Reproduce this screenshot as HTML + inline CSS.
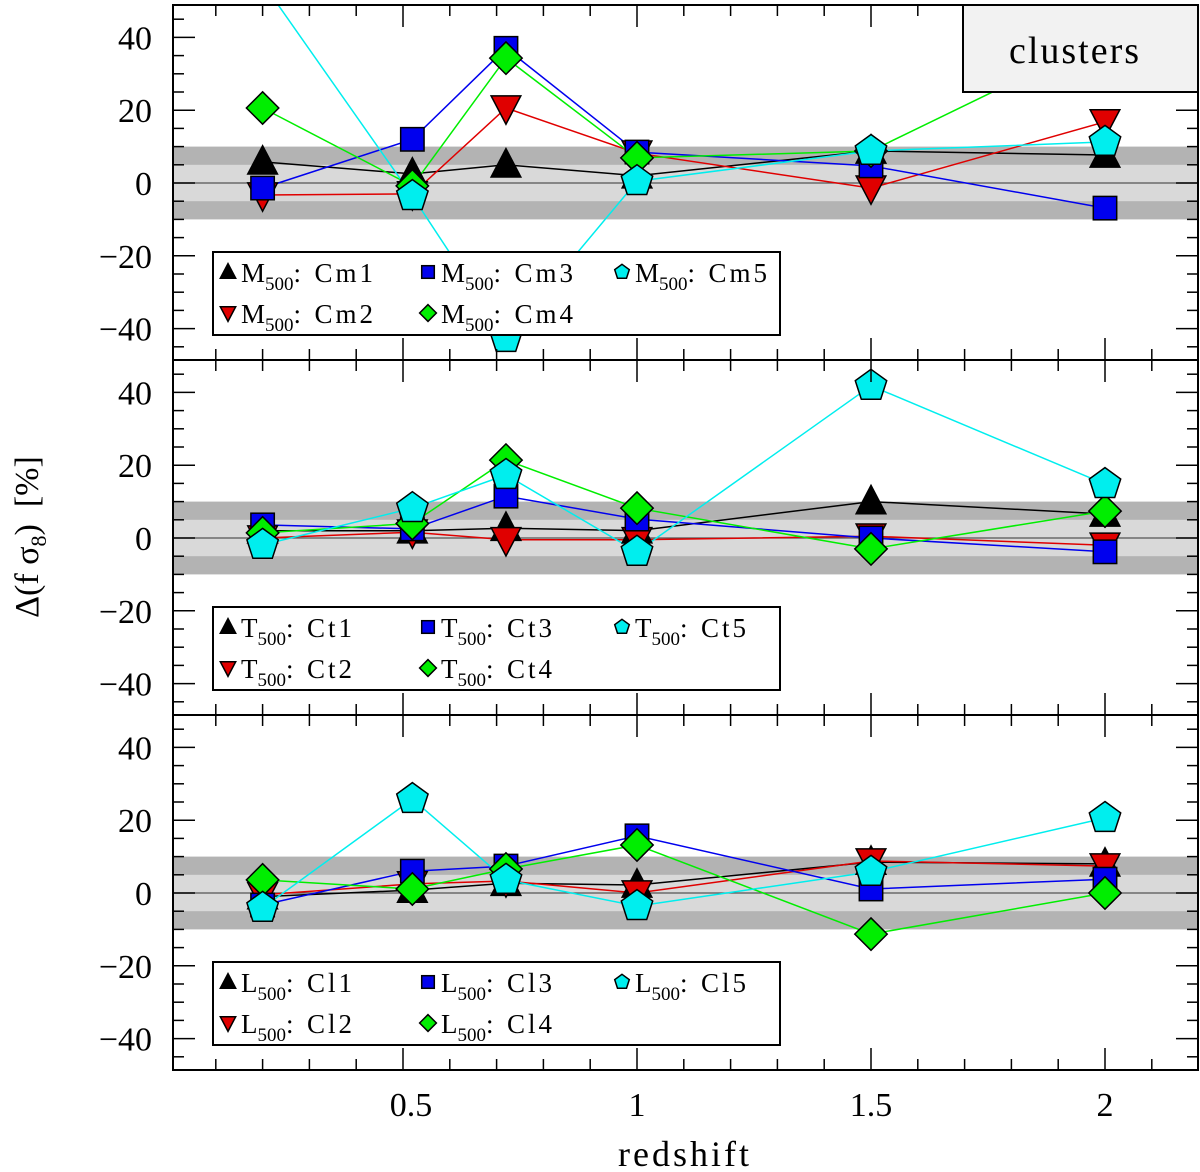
<!DOCTYPE html>
<html><head><meta charset="utf-8"><style>
html,body{margin:0;padding:0;background:#fff}
svg{display:block}
text{font-family:"Liberation Serif",serif;fill:#000;white-space:pre}
</style></head><body>
<svg id="c" width="1200" height="1172" viewBox="0 0 1200 1172" xmlns="http://www.w3.org/2000/svg"></svg>
<script>
const redshift=[0.2,0.52,0.72,1.0,1.5,2.0];
const panelPrefix=["M","T","L"];
const seriesNames=[["Cm1","Cm2","Cm3","Cm4","Cm5"],["Ct1","Ct2","Ct3","Ct4","Ct5"],["Cl1","Cl2","Cl3","Cl4","Cl5"]];
// top panel (M500)
const cm1=[5.8,2.5,5,2,8.8,7.7];
const cm2=[-3.3,-3,20.6,8.2,-1.4,16.8];
const cm3=[-1.4,12,37,8.5,4.7,-6.9];
const cm4=[20.6,-0.8,34.3,6.9,8.8,40];
const cm5=[55,-3.6,-42.6,0.5,8.8,11.3];
// middle panel (T500)
const ct1=[2,2,2.7,2,10,6.6];
const ct2=[0,1.6,-0.5,-0.5,0.5,-2];
const ct3=[3.6,2.5,11.5,5.2,0,-3.8];
const ct4=[1.4,4,21.4,8.2,-3,7.4];
const ct5=[-1.9,8.2,17.3,-3.8,41.8,14.8];
// bottom panel (L500)
const cl1=[-1,0.8,2.7,2.2,8.5,8];
const cl2=[-0.5,2.5,3.3,0,8.8,7.4];
const cl3=[-3.3,6,7.4,15.7,1.1,3.8];
const cl4=[3.6,1.1,6.6,13.2,-11.3,0];
const cl5=[-4.1,25.8,3.6,-3.6,5.8,20.6];
const yTicks=[-40,-20,0,20,40];
const xTicks=[0.5,1,1.5,2];
const xTickLabels=["0.5","1","1.5","2"];

const panels=[[cm1,cm2,cm3,cm4,cm5],[ct1,ct2,ct3,ct4,ct5],[cl1,cl2,cl3,cl4,cl5]];
const colors=["#000","#e00000","#0000ee","#00ee00","#00eeee"];
const shapes=["up","down","square","diamond","pent"];
const NS="http://www.w3.org/2000/svg";
const svg=document.getElementById("c");
const L=173,R=1198,PT=5,PH=355,PPU=3.64;
function X(v){return 169+v*468;}
function Y(p,v){return PT+p*PH+178-v*PPU;}
function el(tag,attrs,parent){const e=document.createElementNS(NS,tag);for(const k in attrs)e.setAttribute(k,attrs[k]);(parent||svg).appendChild(e);return e;}
function marker(shape,cx,cy,s,fill,parent){
  let e;
  if(shape==="up") e=el("polygon",{points:`${cx},${cy-s*0.6} ${cx+s*0.55},${cy+s*0.45} ${cx-s*0.55},${cy+s*0.45}`},parent);
  else if(shape==="down") e=el("polygon",{points:`${cx},${cy+s*0.6} ${cx+s*0.55},${cy-s*0.45} ${cx-s*0.55},${cy-s*0.45}`},parent);
  else if(shape==="square") e=el("rect",{x:cx-s*0.45,y:cy-s*0.45,width:s*0.9,height:s*0.9},parent);
  else if(shape==="diamond") e=el("polygon",{points:`${cx},${cy-s*0.6} ${cx+s*0.6},${cy} ${cx},${cy+s*0.6} ${cx-s*0.6},${cy}`},parent);
  else {let pts=[];for(let i=0;i<5;i++){const a=-Math.PI/2+i*2*Math.PI/5;pts.push((cx+s*0.55*Math.cos(a)).toFixed(1)+","+(cy+s*0.55*Math.sin(a)).toFixed(1));}e=el("polygon",{points:pts.join(" ")},parent);}
  e.setAttribute("fill",fill);e.setAttribute("stroke","#000");e.setAttribute("stroke-width","1.5");
  return e;
}
const defs=el("defs",{});
for(let p=0;p<3;p++){
  const cp=el("clipPath",{id:"clip"+p},defs);
  el("rect",{x:L,y:PT+p*PH,width:R-L,height:PH},cp);
}
for(let p=0;p<3;p++){
  const g=el("g",{});
  
  
  const top=PT+p*PH;
  const band1=el("rect",{x:L,y:Y(p,10),width:R-L,height:20*PPU,fill:"#b3b3b3"},g);
  
  const band2=el("rect",{x:L,y:Y(p,5),width:R-L,height:10*PPU,fill:"#d9d9d9"},g);
  
  el("line",{x1:L,x2:R,y1:Y(p,0),y2:Y(p,0),stroke:"#555","stroke-width":1.2},g);
  const sg=el("g",{"clip-path":"url(#clip"+p+")"},g);
  panels[p].forEach((vals,si)=>{
    const pts=vals.map((v,i)=>X(redshift[i]).toFixed(1)+","+Y(p,v).toFixed(1)).join(" ");
    const pl=el("polyline",{points:pts,fill:"none",stroke:colors[si],"stroke-width":1.5},sg);
    
    
  });
  panels[p].forEach((vals,si)=>{
    vals.forEach((v,i)=>{
      const m=marker(shapes[si],X(redshift[i]),Y(p,v),shapes[si]==="square"?26:(shapes[si]==="pent"?30:27),colors[si],sg);
      
      
    });
  });
  el("rect",{x:L,y:top,width:R-L,height:PH,fill:"none",stroke:"#000","stroke-width":2},g);
  for(let v=-45;v<=45;v+=5){
    const major=v%20===0;const len=major?22:11;const y=Y(p,v);
    el("line",{x1:L,x2:L+len,y1:y,y2:y,stroke:"#000","stroke-width":1.5},g);
    el("line",{x1:R-len,x2:R,y1:y,y2:y,stroke:"#000","stroke-width":1.5},g);
  }
  yTicks.forEach(v=>{
    const t=el("text",{x:152,y:Y(p,v)+12,"text-anchor":"end","font-size":34},g);
    t.textContent=v<0?"\u2212"+Math.abs(v):String(v);
    
  });
  for(let k=1;k<=21;k++){
    const v=k/10;const major=k%5===0;const len=major?22:11;const x=X(v);
    el("line",{x1:x,x2:x,y1:top,y2:top+len,stroke:"#000","stroke-width":1.5},g);
    el("line",{x1:x,x2:x,y1:top+PH-len,y2:top+PH,stroke:"#000","stroke-width":1.5},g);
  }
  const lg=el("g",{},g);
  
  
  const ly=top+247;
  el("rect",{x:213,y:ly,width:567,height:83,fill:"#fff",stroke:"#000","stroke-width":2},lg);
  const cols=[228,428,622],rows=[ly+20,ly+61];
  [[0,0],[1,0],[0,1],[1,1],[0,2]].forEach((rc,si)=>{
    const cx=cols[rc[1]],cy=rows[rc[0]];
    marker(shapes[si],cx,cy,14,colors[si],lg);
    const t=el("text",{x:cx+13,y:cy+10,"font-size":27},lg);
    t.innerHTML=panelPrefix[p]+'<tspan font-size="19" dy="8">500</tspan><tspan dy="-8">:  </tspan><tspan letter-spacing="3">'+seriesNames[p][si]+'</tspan>';
    
    
  });
}
const cb=el("rect",{x:963,y:PT,width:R-963,height:87,fill:"#f2f2f2",stroke:"#000","stroke-width":2});

const ct=el("text",{x:1075,y:63,"text-anchor":"middle","font-size":38,"letter-spacing":"2"});
ct.textContent="clusters";
xTicks.forEach((v,i)=>{
  const t=el("text",{x:X(v)+(v===0.5?8:0),y:1116,"text-anchor":"middle","font-size":34});
  t.textContent=xTickLabels[i];
  
});
const xt=el("text",{x:685,y:1166,"text-anchor":"middle","font-size":36,"letter-spacing":"3"});
xt.textContent="redshift";
const yt=el("text",{x:0,y:0,"text-anchor":"middle","font-size":34,transform:"translate(38,537) rotate(-90)"});
yt.innerHTML='Δ(f σ<tspan font-size="22" dy="8">8</tspan><tspan dy="-8">)  [%]</tspan>';

</script>
</body></html>
